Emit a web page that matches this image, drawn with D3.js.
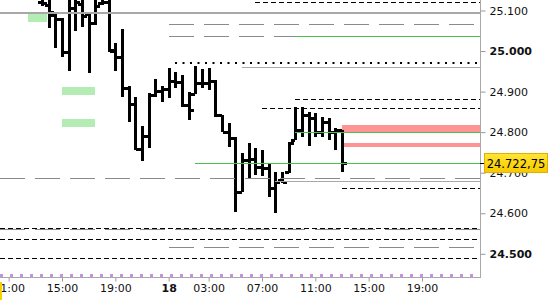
<!DOCTYPE html>
<html>
<head>
<meta charset="utf-8">
<script src="https://cdn.jsdelivr.net/npm/d3@7"></script>
<style>
  body { margin: 0; background: #fff; }
  text { font-family: 'DejaVu Sans', sans-serif; }
</style>
</head>
<body>
<script>
// 30 minute bars, index 0 = first visible bar (13:30)
const barOpen = [25121, 25114, 25089, 25079, 24998, 25105, 25115, 25091, 25070, 25118, 25120, 25002.5, 24985, 24909, 24869,
  24758.5, 24790.5, 24891.5, 24901.5, 24906.5, 24926, 24924, 24867, 24894, 24921, 24921, 24926, 24842, 24800.5, 24785.5,
  24652.5, 24731, 24734, 24714, 24711.5, 24662.5, 24682, 24701.5, 24780.5, 24805.5, 24842, 24835, 24800.5, 24825, 24800.5, 24805.5]
const barHigh = [25150, 25150, 25094, 25081.5, 25140, 25145, 25150, 25096, 25140, 25150, 25145, 25020, 25054, 24914, 24886.5,
  24815, 24896.5, 24931, 24914, 24958, 24948.5, 24941, 24899, 24963, 24956, 24958, 24928.5, 24842.5, 24822.5, 24788,
  24748.5, 24773, 24761, 24756, 24724, 24701.5, 24701.5, 24775, 24862, 24862, 24849.5, 24847, 24837.5, 24835, 24810, 24805.5]
const barLow = [25111, 25057, 25007.5, 24985, 24951, 25049, 25059, 24946, 25064, 25113.5, 24997.5, 24951, 24886.5, 24825, 24756,
  24728.5, 24761, 24886.5, 24874.5, 24884, 24909, 24862, 24830, 24894, 24909, 24904, 24837.5, 24800.5, 24763.5, 24603,
  24652.5, 24687, 24694, 24692, 24640, 24600.5, 24675, 24699, 24780.5, 24788, 24766, 24788, 24788, 24780.5, 24756, 24701.5]
const barClose = [25118.5, 25096, 25079, 24997.5, 25105, 25120, 25086, 25069, 25110, 25120, 25000, 24985, 24909, 24869.5, 24758.5,
  24790.5, 24891.5, 24901.5, 24906.5, 24926, 24923.5, 24867, 24854.5, 24921, 24921, 24926, 24842.5, 24800.5, 24785.5, 24652.5,
  24731, 24734, 24714, 24711.5, 24662.5, 24677.5, 24677.5, 24773, 24805.5, 24842.5, 24835, 24800.5, 24825, 24800.5, 24805.5, 24722.75]

const lastPrice = 24722.75
const lastPriceLabel = '24.722,75'

const timeTickIndex = [-5, 3, 11, 19, 25, 33, 41, 49, 57]
const timeTickLabels = ['11:00', '15:00', '19:00', '18', '03:00', '07:00', '11:00', '15:00', '19:00']
const priceTicks = [25100, 25000, 24900, 24800, 24700, 24600, 24500]
const priceTickLabels = ['25.100', '25.000', '24.900', '24.800', '24.700', '24.600', '24.500']

// horizontal levels (price, first bar index where the line starts)
const shortDashLevels = [25120, 24881, 24859, 24662, 24563, 24536, 24489]
const shortDashStart = [32, 38, 33, 45, -7, -7, -7]
const longDashLevels = [25066, 25037, 24686, 24560.5, 24516]
const longDashStart = [19, 19, -7, -7, 19]
const longDashEnd = [66, 38, 66, 66, 66]
const greenLevels = [25037, 24801, 24722.75]
const greenStart = [38, 38, 23]
const graySolidLevels = [24960, 24679]
const graySolidStart = [30, 35]
const thickGrayLevel = 25094
const dottedLevel = 24970.5
const dottedStart = 20
const purpleLevel = 24448

// zones: [top price, bottom price], [from index, to index]
const greenZoneTop = [25093, 24910.5, 24832.5]
const greenZoneBottom = [25070, 24891.5, 24813.5]
const greenZoneFrom = [-2.1, 3, 3]
const greenZoneTo = [0.75, 7.95, 7.95]
const pinkZoneTop = [24817.5, 24772.5]
const pinkZoneBottom = [24801, 24761.5]
const pinkZoneFrom = [45, 45]

class PriceChart {
  constructor () {
    this.plotWidth = 480
    this.plotHeight = 277
    this.xScale = d3.scaleLinear().domain([-6.3, 65.7]).range([0, this.plotWidth])
    this.yScale = d3.scaleLinear().domain([24500, 25100]).range([253.8, 10.5])
    this.svg = d3.select('body').append('svg')
      .attr('width', 550)
      .attr('height', 300)

    this.svg.append('clipPath').attr('id', 'plot')
      .append('rect').attr('width', this.plotWidth).attr('height', this.plotHeight)

    this.plot = this.svg.append('g').attr('clip-path', 'url(#plot)')

    this.init()
  }

  init () {
    this.drawZones()
    this.drawBars()
    this.drawLevels()
    this.drawAxes()
    this.drawLastPrice()
  }

  drawZones () {
    const x = this.xScale
    const y = this.yScale
    this.plot.selectAll('.gzone')
      .data(greenZoneTop)
      .enter().append('rect')
      .attr('x', (d, i) => Math.round(x(greenZoneFrom[i])))
      .attr('width', (d, i) => Math.round(x(greenZoneTo[i]) - x(greenZoneFrom[i])))
      .attr('y', d => Math.round(y(d)))
      .attr('height', (d, i) => Math.round(y(greenZoneBottom[i]) - y(d)))
      .attr('fill', '#b3edb3')

    this.plot.selectAll('.pzone')
      .data(pinkZoneTop)
      .enter().append('rect')
      .attr('x', (d, i) => Math.round(x(pinkZoneFrom[i])))
      .attr('width', (d, i) => this.plotWidth - Math.round(x(pinkZoneFrom[i])))
      .attr('y', d => Math.round(y(d)))
      .attr('height', (d, i) => Math.round(y(pinkZoneBottom[i]) - y(d)))
      .attr('fill', '#ff9494')
  }

  drawBars () {
    const x = this.xScale
    const y = this.yScale
    const g = this.plot.append('g').attr('fill', '#000')
    barOpen.forEach((o, i) => {
      const cx = Math.round(x(i))
      const top = Math.round(y(barHigh[i]))
      const bottom = Math.round(y(barLow[i]))
      g.append('rect').attr('x', cx - 1).attr('y', top).attr('width', 3).attr('height', Math.max(bottom - top, 2))
      g.append('rect').attr('x', cx - 4).attr('y', Math.round(y(o)) - 1).attr('width', 4).attr('height', 3)
      g.append('rect').attr('x', cx + 1).attr('y', Math.round(y(barClose[i])) - 1).attr('width', 4).attr('height', 3)
    })
  }

  hline (price, from, to, stroke, width, dash) {
    const yy = Math.round(this.yScale(price)) + (width % 2 ? 0.5 : 0)
    this.plot.append('line')
      .attr('x1', Math.max(0, Math.round(this.xScale(from))))
      .attr('x2', Math.min(this.plotWidth, Math.round(this.xScale(to))))
      .attr('y1', yy)
      .attr('y2', yy)
      .attr('stroke', stroke)
      .attr('stroke-width', width)
      .attr('stroke-dasharray', dash)
  }

  drawLevels () {
    const end = 66
    longDashLevels.forEach((p, i) => this.hline(p, longDashStart[i], longDashEnd[i], '#8a8a8a', 1, '25,10'))
    graySolidLevels.forEach((p, i) => this.hline(p, graySolidStart[i], end, '#a8a8a8', 1, null))
    this.hline(thickGrayLevel, -7, end, '#a8a8a8', 2, null)
    shortDashLevels.forEach((p, i) => this.hline(p, shortDashStart[i], end, '#000', 1, '5,3'))
    this.hline(dottedLevel, dottedStart, end, '#000', 2, '2,5.5')
    greenLevels.forEach((p, i) => this.hline(p, greenStart[i], end, '#4cc04c', 1, null))
    this.hline(purpleLevel, -7, end, '#c890e4', 3, '3,7')
  }

  drawAxes () {
    const yAxis = d3.axisRight(this.yScale)
      .tickValues(priceTicks)
      .tickFormat((d, i) => priceTickLabels[i])
      .tickSize(5)
      .tickPadding(4)

    const yg = this.svg.append('g')
      .attr('transform', 'translate(' + (this.plotWidth + 0.5) + ',0)')
      .call(yAxis)
    yg.select('.domain').remove()
    yg.selectAll('line').attr('stroke', '#999')
    yg.selectAll('text')
      .attr('font-size', 11)
      .attr('fill', '#111')
      .attr('font-weight', d => d % 500 === 0 ? 'bold' : 'normal')

    const xAxis = d3.axisBottom(this.xScale)
      .tickValues(timeTickIndex)
      .tickFormat((d, i) => timeTickLabels[i])
      .tickSize(4)
      .tickPadding(3)

    const xg = this.svg.append('g')
      .attr('transform', 'translate(0,' + (this.plotHeight + 0.5) + ')')
      .call(xAxis)
    xg.select('.domain').remove()
    xg.selectAll('line').attr('stroke', '#999')
    xg.selectAll('text')
      .attr('font-size', 11)
      .attr('fill', '#111')
      .attr('font-weight', (d, i) => timeTickLabels[i] === '18' ? 'bold' : 'normal')

    // frame lines of the price and time scales
    this.svg.append('line')
      .attr('x1', this.plotWidth + 0.5).attr('x2', this.plotWidth + 0.5)
      .attr('y1', 0).attr('y2', this.plotHeight + 1)
      .attr('stroke', '#a8a8a8')
    this.svg.append('line')
      .attr('x1', 0).attr('x2', this.plotWidth)
      .attr('y1', this.plotHeight + 0.5).attr('y2', this.plotHeight + 0.5)
      .attr('stroke', '#a8a8a8')

    // cut off crosshair time label at the left edge
    this.svg.append('rect').attr('x', 0).attr('y', 282).attr('width', 2).attr('height', 18).attr('fill', '#f2d200')
  }

  drawLastPrice () {
    const yy = Math.round(this.yScale(lastPrice))
    this.svg.append('line')
      .attr('x1', this.plotWidth).attr('x2', this.plotWidth + 5)
      .attr('y1', yy + 0.5).attr('y2', yy + 0.5)
      .attr('stroke', '#000')

    const grad = this.svg.append('defs').append('linearGradient')
      .attr('id', 'lastGrad').attr('x1', 0).attr('x2', 0).attr('y1', 0).attr('y2', 1)
    grad.append('stop').attr('offset', 0).attr('stop-color', '#ffe634')
    grad.append('stop').attr('offset', 1).attr('stop-color', '#f7c800')

    this.svg.append('rect')
      .attr('x', 484.5).attr('y', yy - 9.5)
      .attr('width', 63).attr('height', 19)
      .attr('fill', 'url(#lastGrad)')
      .attr('stroke', '#e0b000')

    this.svg.append('text')
      .attr('x', 516).attr('y', yy + 1)
      .attr('text-anchor', 'middle')
      .attr('dominant-baseline', 'middle')
      .attr('font-size', 11.5)
      .attr('fill', '#000')
      .text(lastPriceLabel)
  }
}

new PriceChart()
</script>
</body>
</html>
